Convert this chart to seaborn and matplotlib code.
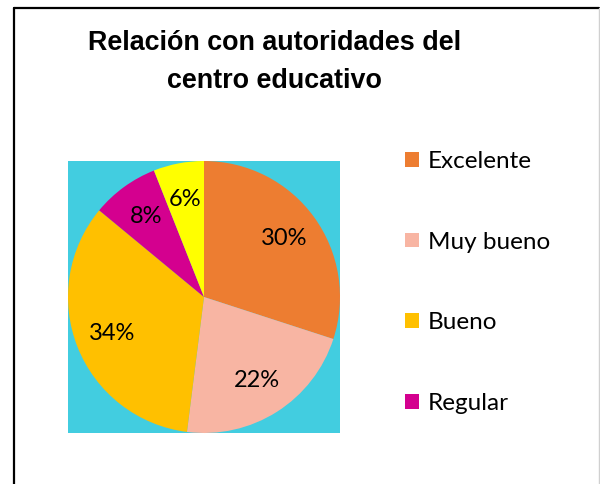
import matplotlib
matplotlib.use("Agg")
import matplotlib.pyplot as plt
import seaborn as sns
from matplotlib.lines import Line2D

categorias = ["Excelente", "Muy bueno", "Bueno", "Regular", "Malo"]
porcentajes = [30, 22, 34, 8, 6]
colores = ["#ED7D31", "#F8B5A3", "#FFC000", "#D4008F", "#FFFF00"]
titulo = "Relación con autoridades del\ncentro educativo"

sns.set_theme(style="white")
plt.rcParams["font.family"] = ["Lato", "DejaVu Sans"]
plt.rcParams["text.color"] = "black"

fig = plt.figure(figsize=(6, 4.84), dpi=100)
fig.patch.set_facecolor("white")

# area del grafico (fondo cian)
ax = fig.add_axes([68 / 600, 1 - 433 / 484, 272 / 600, 272 / 484])
wedges, _, autotexts = ax.pie(
    porcentajes,
    colors=colores,
    startangle=90,
    counterclock=False,
    autopct=lambda p: f"{p:.0f}%",
    pctdistance=0.73,
    radius=1.0,
    wedgeprops=dict(linewidth=0),
    textprops=dict(fontsize=17, color="black"),
)
ax.set_xlim(-1, 1)
ax.set_ylim(-1, 1)
ax.set_aspect("equal")
ax.set_frame_on(True)
ax.set_facecolor("#42CDE0")
ax.set_xticks([])
ax.set_yticks([])
for s in ax.spines.values():
    s.set_visible(False)

# titulo
fig.text(0.457, 1 - 62 / 484, titulo, ha="center", va="center",
         fontsize=19.4, fontweight="bold", family="Liberation Sans",
         color="black", linespacing=1.55)

# leyenda (solo caben 4 entradas)
fig.legend(wedges[:4], categorias[:4], loc="upper left",
           bbox_to_anchor=(393 / 600, 1 - 139 / 484), frameon=False,
           fontsize=17.5, handlelength=0.55, handleheight=0.55,
           handletextpad=0.4, labelspacing=2.45, borderpad=0)

# borde del grafico
fig.add_artist(Line2D([14 / 600, 14 / 600], [0, 1 - 8 / 484], color="black",
                      lw=1.6, transform=fig.transFigure))
fig.add_artist(Line2D([14 / 600, 599 / 600], [1 - 8 / 484, 1 - 8 / 484],
                      color="black", lw=1.6, transform=fig.transFigure))
fig.add_artist(Line2D([599 / 600, 599 / 600], [0, 1 - 8 / 484], color="#D0D0D0",
                      lw=1.0, transform=fig.transFigure))

fig.savefig("out.png", dpi=100)
